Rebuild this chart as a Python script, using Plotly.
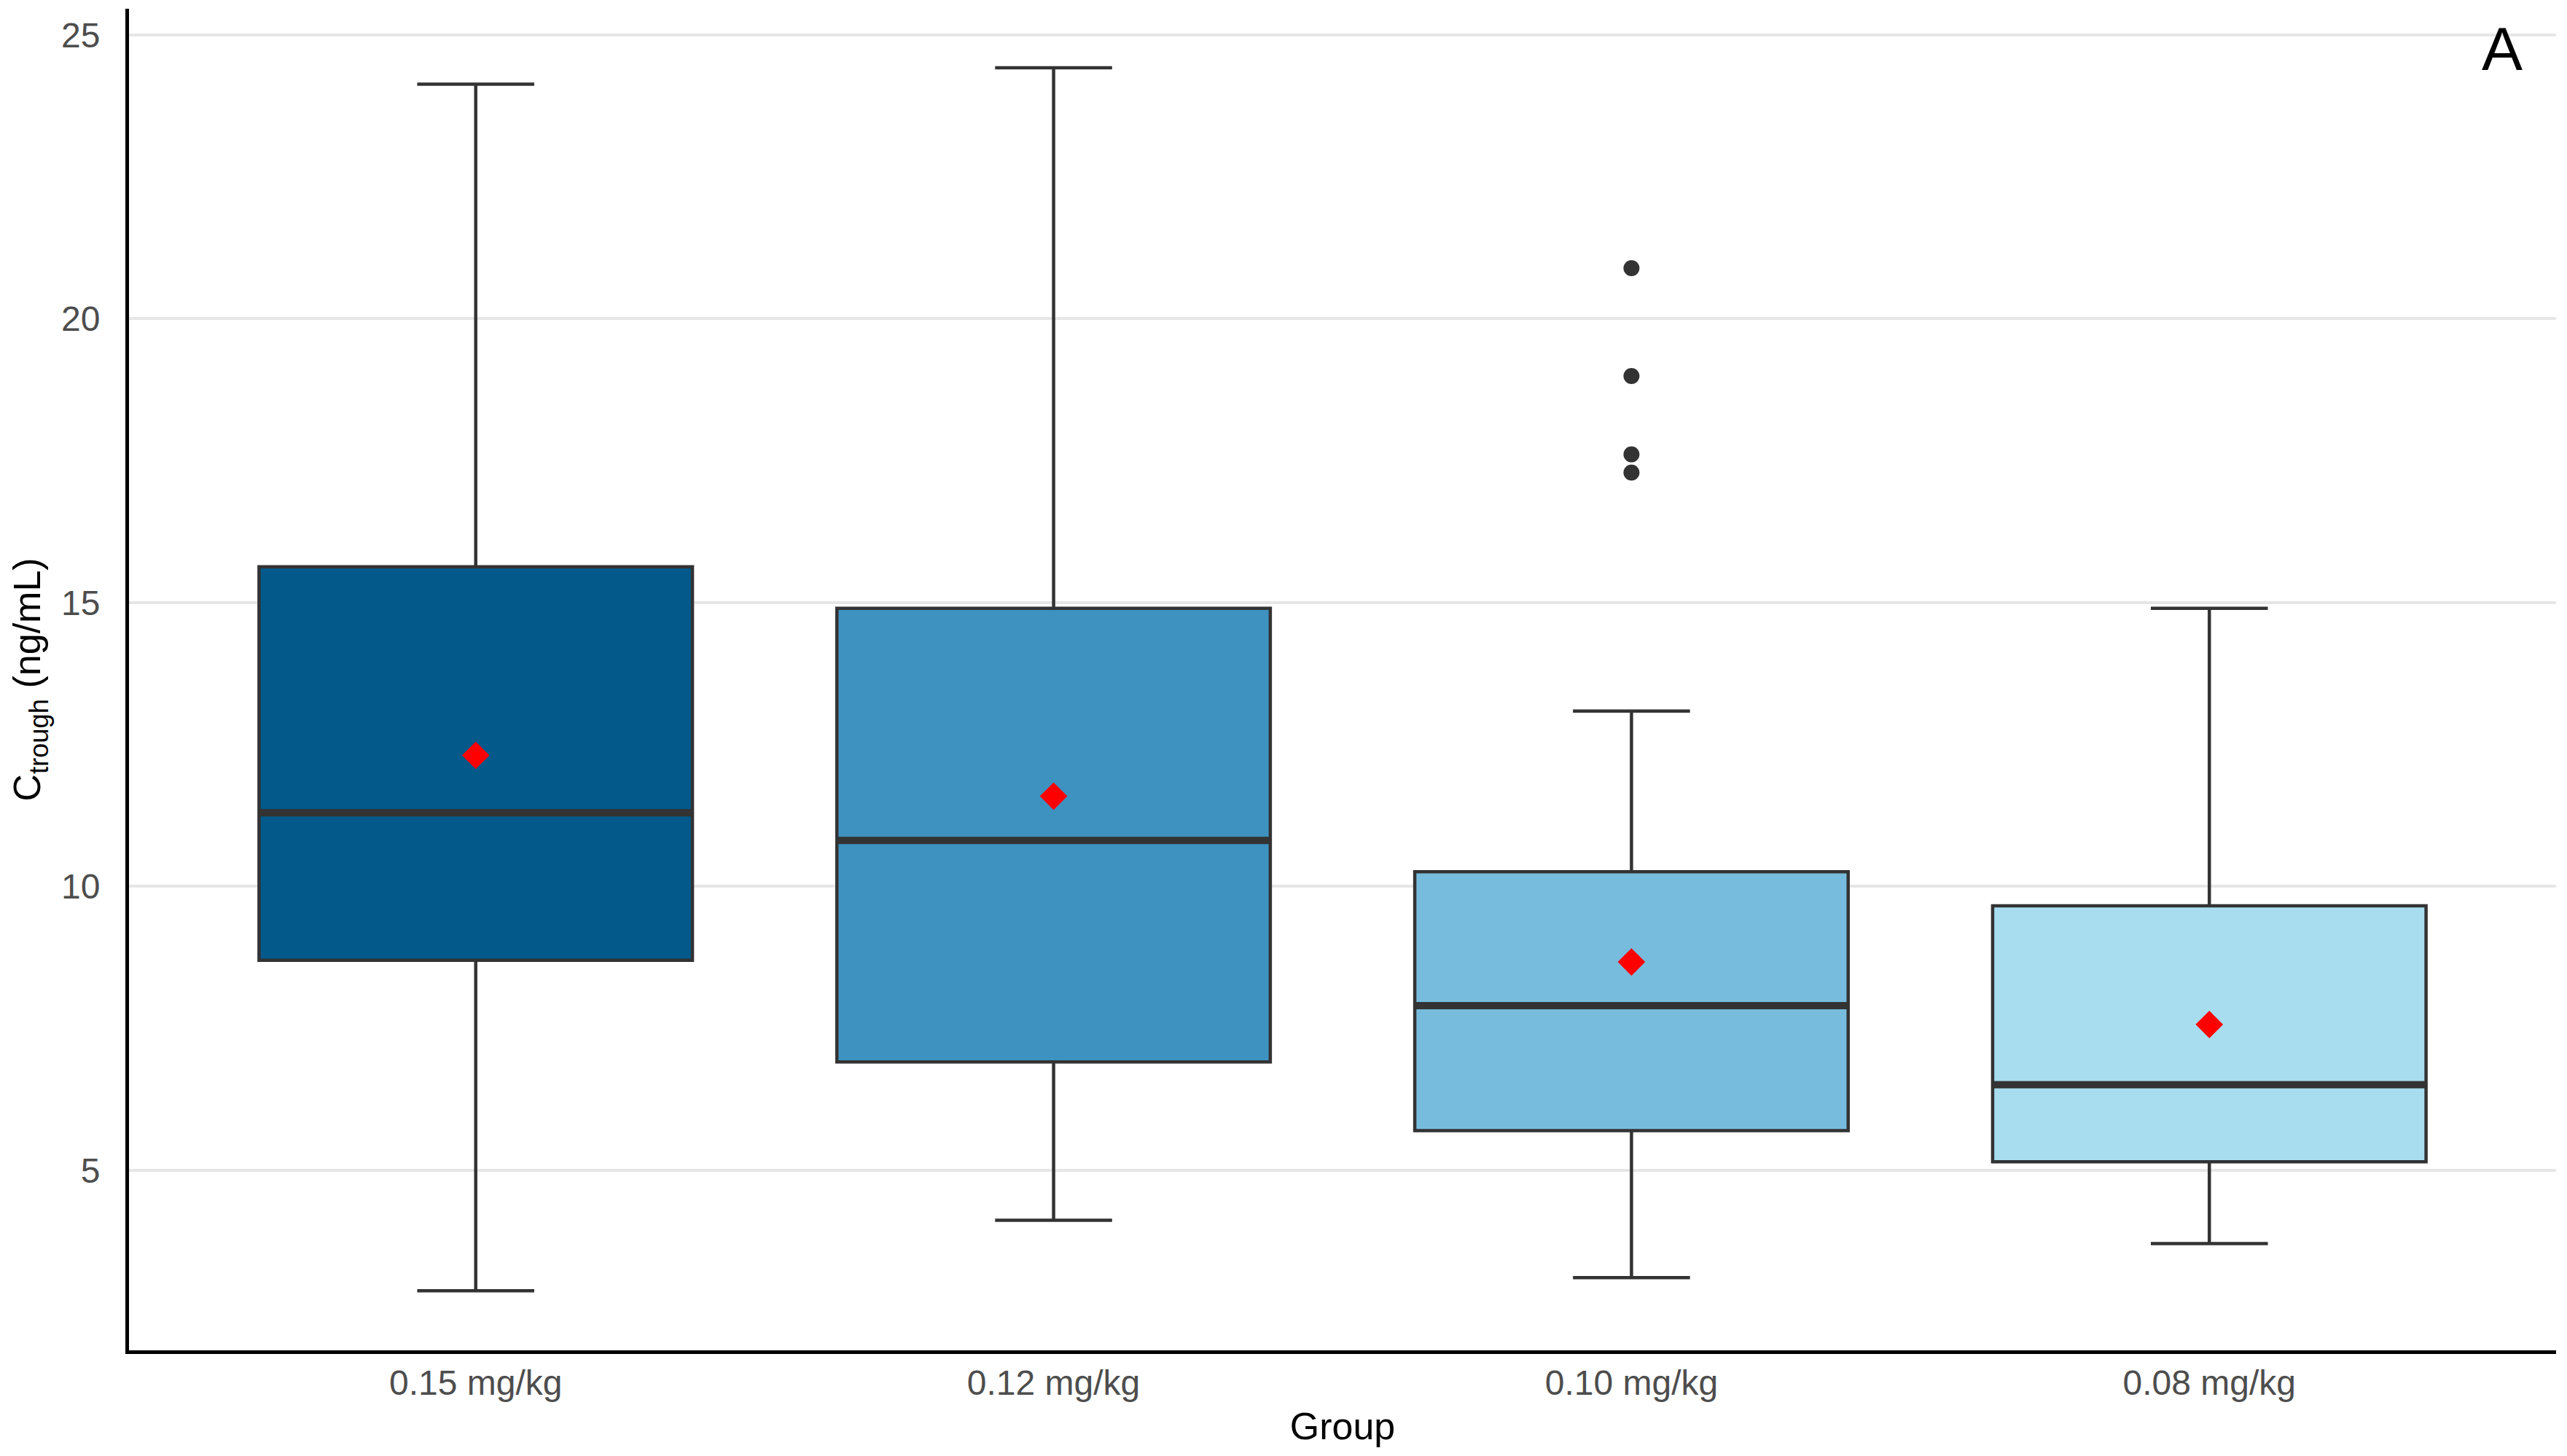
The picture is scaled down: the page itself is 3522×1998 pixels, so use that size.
import plotly.graph_objects as go

# Summary statistics (ng/mL)
groups = ['0.15 mg/kg', '0.12 mg/kg', '0.10 mg/kg', '0.08 mg/kg']
q1 = [8.70, 6.91, 5.70, 5.15]
median = [11.30, 10.81, 7.90, 6.51]
q3 = [15.63, 14.90, 10.26, 9.66]
lower_fence = [2.88, 4.12, 3.11, 3.71]
upper_fence = [24.13, 24.42, 13.09, 14.90]
means = [12.31, 11.59, 8.67, 7.57]
outlier_group = [2, 2, 2, 2]
outlier_values = [20.89, 18.99, 17.61, 17.29]

fill_colors = ['#02598A', '#3E92C0', '#78BCDD', '#A8DDF0']
box_width = 0.75
edge = '#333333'
font_family = 'Liberation Sans, Arial, sans-serif'

fig = go.Figure()

for i, g in enumerate(groups):
    fig.add_trace(go.Box(
        x=[i],
        q1=[q1[i]],
        median=[median[i]],
        q3=[q3[i]],
        lowerfence=[lower_fence[i]],
        upperfence=[upper_fence[i]],
        name=g,
        width=box_width,
        whiskerwidth=0.27,
        fillcolor=fill_colors[i],
        line=dict(color=edge, width=4.5),
        boxpoints=False,
        showlegend=False,
    ))

# thicker median bars, like ggplot
med_x, med_y = [], []
for i, m in enumerate(median):
    med_x += [i - box_width / 2, i + box_width / 2, None]
    med_y += [m, m, None]
fig.add_trace(go.Scatter(
    x=med_x, y=med_y, mode='lines',
    line=dict(color=edge, width=10),
    showlegend=False, hoverinfo='skip',
))

# outliers
fig.add_trace(go.Scatter(
    x=outlier_group, y=outlier_values, mode='markers',
    marker=dict(symbol='circle', size=22, color=edge),
    showlegend=False,
))

# group means
fig.add_trace(go.Scatter(
    x=list(range(len(groups))), y=means, mode='markers',
    marker=dict(symbol='diamond', size=29, color='#FF0000'),
    showlegend=False,
))

fig.add_annotation(
    text='A', xref='paper', yref='paper', x=0.9868, y=0.970,
    xanchor='right', yanchor='middle', showarrow=False,
    font=dict(size=84, color='black', family=font_family),
)

# page body has an 8px margin, so keep the figure inside the window
fig.update_layout(
    width=3506,
    height=1982,
    margin=dict(l=169, r=7, t=4, b=137),
    plot_bgcolor='white',
    paper_bgcolor='white',
    font=dict(family=font_family, color='black'),
    boxmode='overlay',
)

fig.update_xaxes(
    range=[-0.6, 3.6],
    tickvals=list(range(len(groups))),
    ticktext=groups,
    showgrid=False,
    zeroline=False,
    showline=True,
    linecolor='black',
    linewidth=5,
    ticks='',
    ticklabelstandoff=-2,
    tickfont=dict(size=48, color='#4D4D4D'),
    title=dict(text='Group', font=dict(size=52, color='black'), standoff=17),
)

fig.update_yaxes(
    range=[1.83, 25.46],
    tickvals=[5, 10, 15, 20, 25],
    showgrid=True,
    gridcolor='#E6E6E6',
    gridwidth=3.5,
    zeroline=False,
    showline=True,
    linecolor='black',
    linewidth=5,
    ticks='',
    ticklabelstandoff=25,
    tickfont=dict(size=48, color='#4D4D4D'),
    title=dict(text='C<sub>trough</sub> (ng/mL)', font=dict(size=52, color='black'), standoff=18),
)

fig.write_html('out.html')
